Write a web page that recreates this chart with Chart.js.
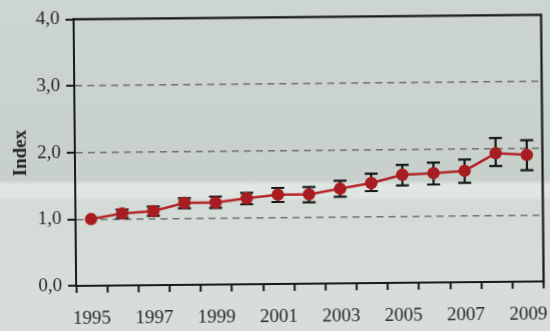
<!DOCTYPE html>
<html>
<head>
<meta charset="utf-8">
<script src="https://cdn.jsdelivr.net/npm/chart.js@4"></script>
<style>
  html, body { margin: 0; padding: 0; }
  body {
    width: 550px; height: 331px; overflow: hidden;
    background: linear-gradient(to bottom, #ccd5d0 0px, #c8d0cc 180px, #e1e7e2 185px, #dfe5e0 196px, #d4dbd6 201px, #d8ddd9 331px);
  }
  #wrap { width: 550px; height: 331px; transform: rotate(-0.55deg); }
</style>
</head>
<body>
<div id="wrap"><canvas id="chart" width="550" height="331"></canvas></div>
<script>
// Daten
const years = ['1995', '1996', '1997', '1998', '1999', '2000', '2001', '2002', '2003', '2004', '2005', '2006', '2007', '2008', '2009'];
const indexValues = [1.00, 1.08, 1.11, 1.23, 1.23, 1.29, 1.34, 1.34, 1.42, 1.50, 1.62, 1.64, 1.67, 1.93, 1.90];
const errLow  = [1.00, 1.01, 1.04, 1.15, 1.15, 1.20, 1.23, 1.22, 1.30, 1.38, 1.46, 1.47, 1.49, 1.74, 1.67];
const errHigh = [1.00, 1.14, 1.18, 1.30, 1.32, 1.37, 1.44, 1.45, 1.54, 1.64, 1.77, 1.80, 1.84, 2.16, 2.12];
const yTicks = [0, 1, 2, 3, 4];

const serif = "'Liberation Serif', 'DejaVu Serif', serif";
const ink = '#161a18';

// Fehlerbalken + Rahmen oben/rechts
const errorBars = {
  id: 'errorBars',
  beforeDatasetsDraw(chart) {
    const ctx = chart.ctx;
    const x = chart.scales.x, y = chart.scales.y;
    const a = chart.chartArea;
    ctx.save();
    ctx.strokeStyle = ink;
    ctx.lineWidth = 2.2;
    ctx.beginPath();
    ctx.moveTo(a.left, a.top); ctx.lineTo(a.right, a.top); ctx.lineTo(a.right, a.bottom + 2);
    ctx.stroke();
    years.forEach((yr, i) => {
      if (errHigh[i] === errLow[i]) return;
      const px = x.getPixelForValue(i);
      const yl = y.getPixelForValue(errLow[i]);
      const yh = y.getPixelForValue(errHigh[i]);
      ctx.beginPath();
      ctx.moveTo(px, yl); ctx.lineTo(px, yh);
      ctx.moveTo(px - 6.5, yl); ctx.lineTo(px + 6.5, yl);
      ctx.moveTo(px - 6.5, yh); ctx.lineTo(px + 6.5, yh);
      ctx.stroke();
    });
    ctx.restore();
  }
};

new Chart(document.getElementById('chart'), {
  type: 'line',
  data: {
    labels: years,
    datasets: [{
      label: 'Index',
      data: indexValues,
      borderColor: '#b3262a',
      borderWidth: 2.5,
      backgroundColor: '#a81d22',
      pointBackgroundColor: '#a81d22',
      pointBorderColor: '#a81d22',
      pointRadius: 5,
      tension: 0
    }]
  },
  options: {
    responsive: false,
    animation: false,
    layout: { padding: { top: 16, right: 5, left: 0, bottom: 0 } },
    plugins: { legend: { display: false }, tooltip: { enabled: false } },
    scales: {
      x: {
        offset: true,
        afterFit(s) { s.height = 47; s.paddingLeft = 0; s.paddingRight = 0; },
        grid: { offset: true, drawOnChartArea: false, drawTicks: true, tickLength: 7, tickColor: ink, tickWidth: 2 },
        border: { display: true, color: ink, width: 2 },
        ticks: {
          autoSkip: false, maxRotation: 0, padding: 15,
          color: '#262a28', font: { family: serif, size: 19 },
          callback: (v, i) => (i % 2 === 0 ? years[i] : '')
        }
      },
      y: {
        min: 0, max: 4,
        afterFit(s) { s.width = 75; },
        afterBuildTicks(s) { s.ticks = yTicks.map(v => ({ value: v })); },
        grid: {
          drawTicks: true, tickLength: 8, tickColor: ink, tickWidth: 2,
          color: ctx => (ctx.tick && (ctx.tick.value === 0 || ctx.tick.value === 4)) ? 'rgba(0,0,0,0)' : 'rgba(85,90,88,0.8)',
          lineWidth: 1.5
        },
        border: { display: true, color: ink, width: 2, dash: [7, 5] },
        ticks: {
          padding: 6, color: '#262a28', font: { family: serif, size: 19 },
          callback: v => v.toFixed(1).replace('.', ',')
        },
        title: {
          display: true, text: 'Index', color: '#1d211f',
          font: { family: serif, size: 19, weight: 'bold' },
          padding: { top: 10, bottom: 0 }
        }
      }
    }
  },
  plugins: [errorBars]
});
</script>
</body>
</html>
